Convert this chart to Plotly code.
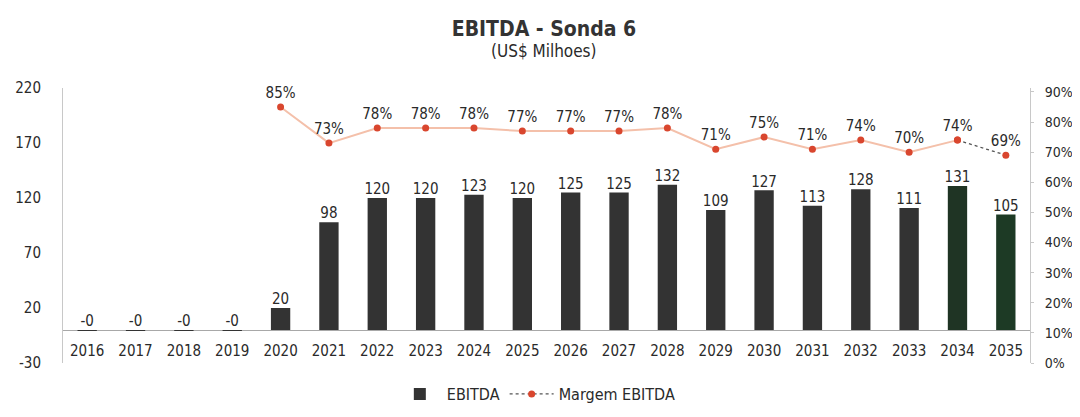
import plotly.graph_objects as go

years = ["2016", "2017", "2018", "2019", "2020", "2021", "2022", "2023", "2024", "2025",
         "2026", "2027", "2028", "2029", "2030", "2031", "2032", "2033", "2034", "2035"]
ebitda = [-0.2, -0.2, -0.2, -0.2, 20, 98, 120, 120, 123, 120,
          125, 125, 132, 109, 127, 113, 128, 111, 131, 105]
margin_years = years[4:]
margem = [0.85, 0.73, 0.78, 0.78, 0.78, 0.77, 0.77, 0.77, 0.78, 0.71,
          0.75, 0.71, 0.74, 0.70, 0.74, 0.69]
left_ticks = [-30, 20, 70, 120, 170, 220]
right_ticks = [0, 0.1, 0.2, 0.3, 0.4, 0.5, 0.6, 0.7, 0.8, 0.9]

FONT = "Liberation Sans Narrow, DejaVu Sans Condensed, DejaVu Sans, sans-serif"
TXT = "#2a2a2a"

# page has an 8px body margin, so the figure is sized to fill the remaining window
W, H = 1072, 409
ML, MR, MT, MB = 55, 50, 80, 54
plot_h = H - MT - MB

bar_colors = ["#333333"] * (len(years) - 2) + ["#1f3424", "#1d3a25"]

fig = go.Figure()
fig.add_trace(go.Bar(
    x=years, y=ebitda, name="EBITDA", width=0.4,
    marker=dict(color=bar_colors, line=dict(width=0)),
))
# bar value labels
fig.add_trace(go.Scatter(
    x=years, y=[max(v, 0) for v in ebitda], mode="text",
    text=[f"{v:.0f}" for v in ebitda], textposition="top center",
    textfont=dict(family=FONT, size=15, color=TXT),
    showlegend=False, hoverinfo="skip", cliponaxis=False,
))
# solid part of margin line
fig.add_trace(go.Scatter(
    x=margin_years[:-1], y=margem[:-1], yaxis="y2", mode="lines+markers+text",
    text=[f"{m*100:.0f}%" for m in margem[:-1]], textposition="top center",
    textfont=dict(family=FONT, size=15, color=TXT),
    line=dict(color="#f4c0aa", width=2),
    marker=dict(color="#d9462e", size=7),
    showlegend=False, cliponaxis=False,
))
# dotted last segment (also legend entry)
fig.add_trace(go.Scatter(
    x=margin_years[-2:], y=margem[-2:], yaxis="y2", mode="lines+markers+text",
    name="Margem EBITDA",
    text=["", f"{margem[-1]*100:.0f}%"], textposition="top center",
    textfont=dict(family=FONT, size=15, color=TXT),
    line=dict(color="#555555", width=1.3, dash="dot"),
    marker=dict(color="#d9462e", size=7), cliponaxis=False,
))

fig.update_layout(
    width=W, height=H,
    margin=dict(l=ML, r=MR, t=MT, b=MB, autoexpand=False),
    paper_bgcolor="white", plot_bgcolor="white",
    font=dict(family=FONT, size=15, color=TXT),
    title=dict(text="<b>EBITDA - Sonda 6</b>", x=0.5, xanchor="center",
               y=1 - 21 / H, yanchor="middle", automargin=False,
               font=dict(family=FONT, size=21, color="#333333")),
    annotations=[dict(
        x=0.497, y=(H - MB - 43) / plot_h, xref="paper", yref="paper",
        text="(US$ Milhoes)", showarrow=False, yanchor="middle",
        font=dict(family=FONT, size=17, color=TXT),
    )],
    showlegend=True,
    legend=dict(orientation="h", x=0.49, xanchor="center", y=-31 / plot_h, yanchor="middle",
                itemwidth=44, font=dict(family=FONT, size=16, color=TXT)),
    xaxis=dict(
        type="category", range=[-0.5, 19.5], automargin=False,
        showline=False, showgrid=False, zeroline=False,
        anchor="free", position=0.085, ticks="",
        tickfont=dict(family=FONT, size=15, color=TXT),
    ),
    yaxis=dict(
        range=[-30, 220], tickvals=left_ticks, ticktext=[str(t) for t in left_ticks],
        showgrid=False, showline=True, linecolor="#c8c8c8", linewidth=1,
        zeroline=True, zerolinecolor="#a8a8a8", zerolinewidth=1, automargin=False,
        ticks="", ticklabelstandoff=18,
        tickfont=dict(family=FONT, size=15, color=TXT),
    ),
    yaxis2=dict(
        overlaying="y", side="right", range=[0, 0.913], tickvals=right_ticks,
        tickformat=".0%", showgrid=False, showline=True, linecolor="#c8c8c8",
        linewidth=1, zeroline=False, ticks="outside", ticklen=3, tickcolor="#c8c8c8",
        ticklabelstandoff=8, automargin=False,
        tickfont=dict(family=FONT, size=14, color=TXT),
    ),
)

fig.write_html("out.html")
